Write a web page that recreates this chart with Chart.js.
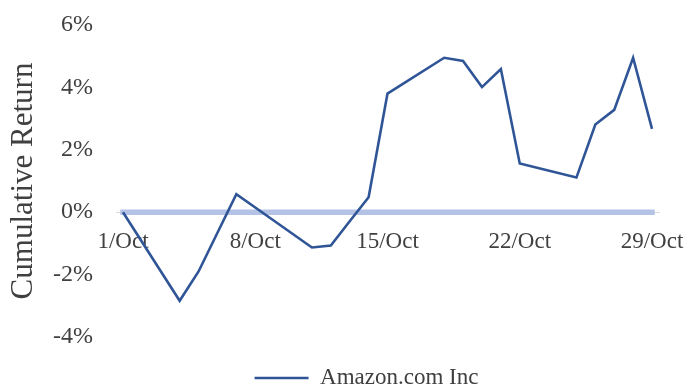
<!DOCTYPE html>
<html>
<head>
<meta charset="utf-8">
<script src="https://cdn.jsdelivr.net/npm/chart.js@4.4.1/dist/chart.umd.min.js"></script>
<style>
  html, body { margin: 0; padding: 0; background: #fff; }
  #wrap { width: 688px; height: 385px; }
</style>
</head>
<body>
<div id="wrap"><canvas id="chart"></canvas></div>
<script>
// --- données (jours de bourse d'octobre, rendement cumulé en %) ---
const days = [1, 4, 5, 6, 7, 8, 11, 12, 13, 14, 15, 18, 19, 20, 21, 22, 25, 26, 27, 28, 29];
const amazon = [0.00, -2.84, -1.90, -0.66, 0.58, 0.15, -1.13, -1.07, -0.29, 0.48, 3.80,
                4.95, 4.85, 4.01, 4.59, 1.56, 1.11, 2.81, 3.28, 4.95, 2.67];
const baseline = [0, 0, 0, 0, 0, 0, 0, 0, 0, 0, 0, 0, 0, 0, 0, 0, 0, 0, 0, 0, 0];
const tickDays = [1, 8, 15, 22, 29];
const tickLabels = ['1/Oct', '8/Oct', '15/Oct', '22/Oct', '29/Oct'];

const FONT = "'Liberation Serif', 'Times New Roman', serif";
const TEXT = '#404040';

const toPoints = (ys) => ys.map((y, i) => ({ x: days[i], y }));

// décale la légende pour coller à la mise en page d'origine
const legendNudge = {
    id: 'legendNudge',
    afterLayout(chart) {
        const lg = chart.legend;
        if (!lg) return;
        lg.left += 37; lg.right += 37;
        lg.top += 19.5; lg.bottom += 19.5;
    }
};

new Chart(document.getElementById('chart'), {
    type: 'line',
    data: {
        datasets: [
            {
                label: 'Amazon.com Inc',
                data: toPoints(amazon),
                borderColor: '#2f5597',
                backgroundColor: '#2f5597',
                borderWidth: 2.6,
                pointRadius: 0,
                tension: 0
            },
            {
                label: 'zero',
                data: toPoints(baseline),
                borderColor: '#b4c2e6',
                borderWidth: 5.5,
                borderCapStyle: 'square',
                pointRadius: 0,
                tension: 0
            }
        ]
    },
    options: {
        animation: false,
        responsive: true,
        maintainAspectRatio: false,
        layout: { padding: { top: 25, right: 29, bottom: 5, left: 0 } },
        plugins: {
            tooltip: { enabled: false },
            legend: {
                position: 'bottom',
                labels: {
                    filter: (item) => item.text !== 'zero',
                    usePointStyle: true,
                    pointStyle: 'line',
                    pointStyleWidth: 54,
                    padding: 10,
                    color: TEXT,
                    font: { family: FONT, size: 23 }
                }
            }
        },
        scales: {
            x: {
                type: 'linear',
                position: { y: 0 },
                min: 0.63,
                max: 29.37,
                afterBuildTicks: (s) => { s.ticks = tickDays.map((v) => ({ value: v })); },
                afterFit: (s) => { s.paddingLeft = 0; s.paddingRight = 0; },
                grid: { display: false, drawTicks: false },
                border: { display: true, color: '#d9d9d9', width: 1 },
                ticks: {
                    padding: 16,
                    maxRotation: 0,
                    autoSkip: false,
                    color: TEXT,
                    font: { family: FONT, size: 23 },
                    callback: (v) => tickLabels[tickDays.indexOf(v)]
                }
            },
            y: {
                min: -4,
                max: 6,
                afterFit: (s) => { s.width = 116; s.paddingTop = 0; s.paddingBottom = 0; },
                grid: { display: false, drawTicks: false },
                border: { display: false },
                ticks: {
                    stepSize: 2,
                    padding: 23,
                    color: TEXT,
                    font: { family: FONT, size: 24 },
                    callback: (v) => v + '%'
                },
                title: {
                    display: true,
                    text: 'Cumulative Return',
                    color: TEXT,
                    padding: { top: 5, bottom: 0 },
                    font: { family: FONT, size: 31 }
                }
            }
        }
    },
    plugins: [legendNudge]
});
</script>
</body>
</html>
